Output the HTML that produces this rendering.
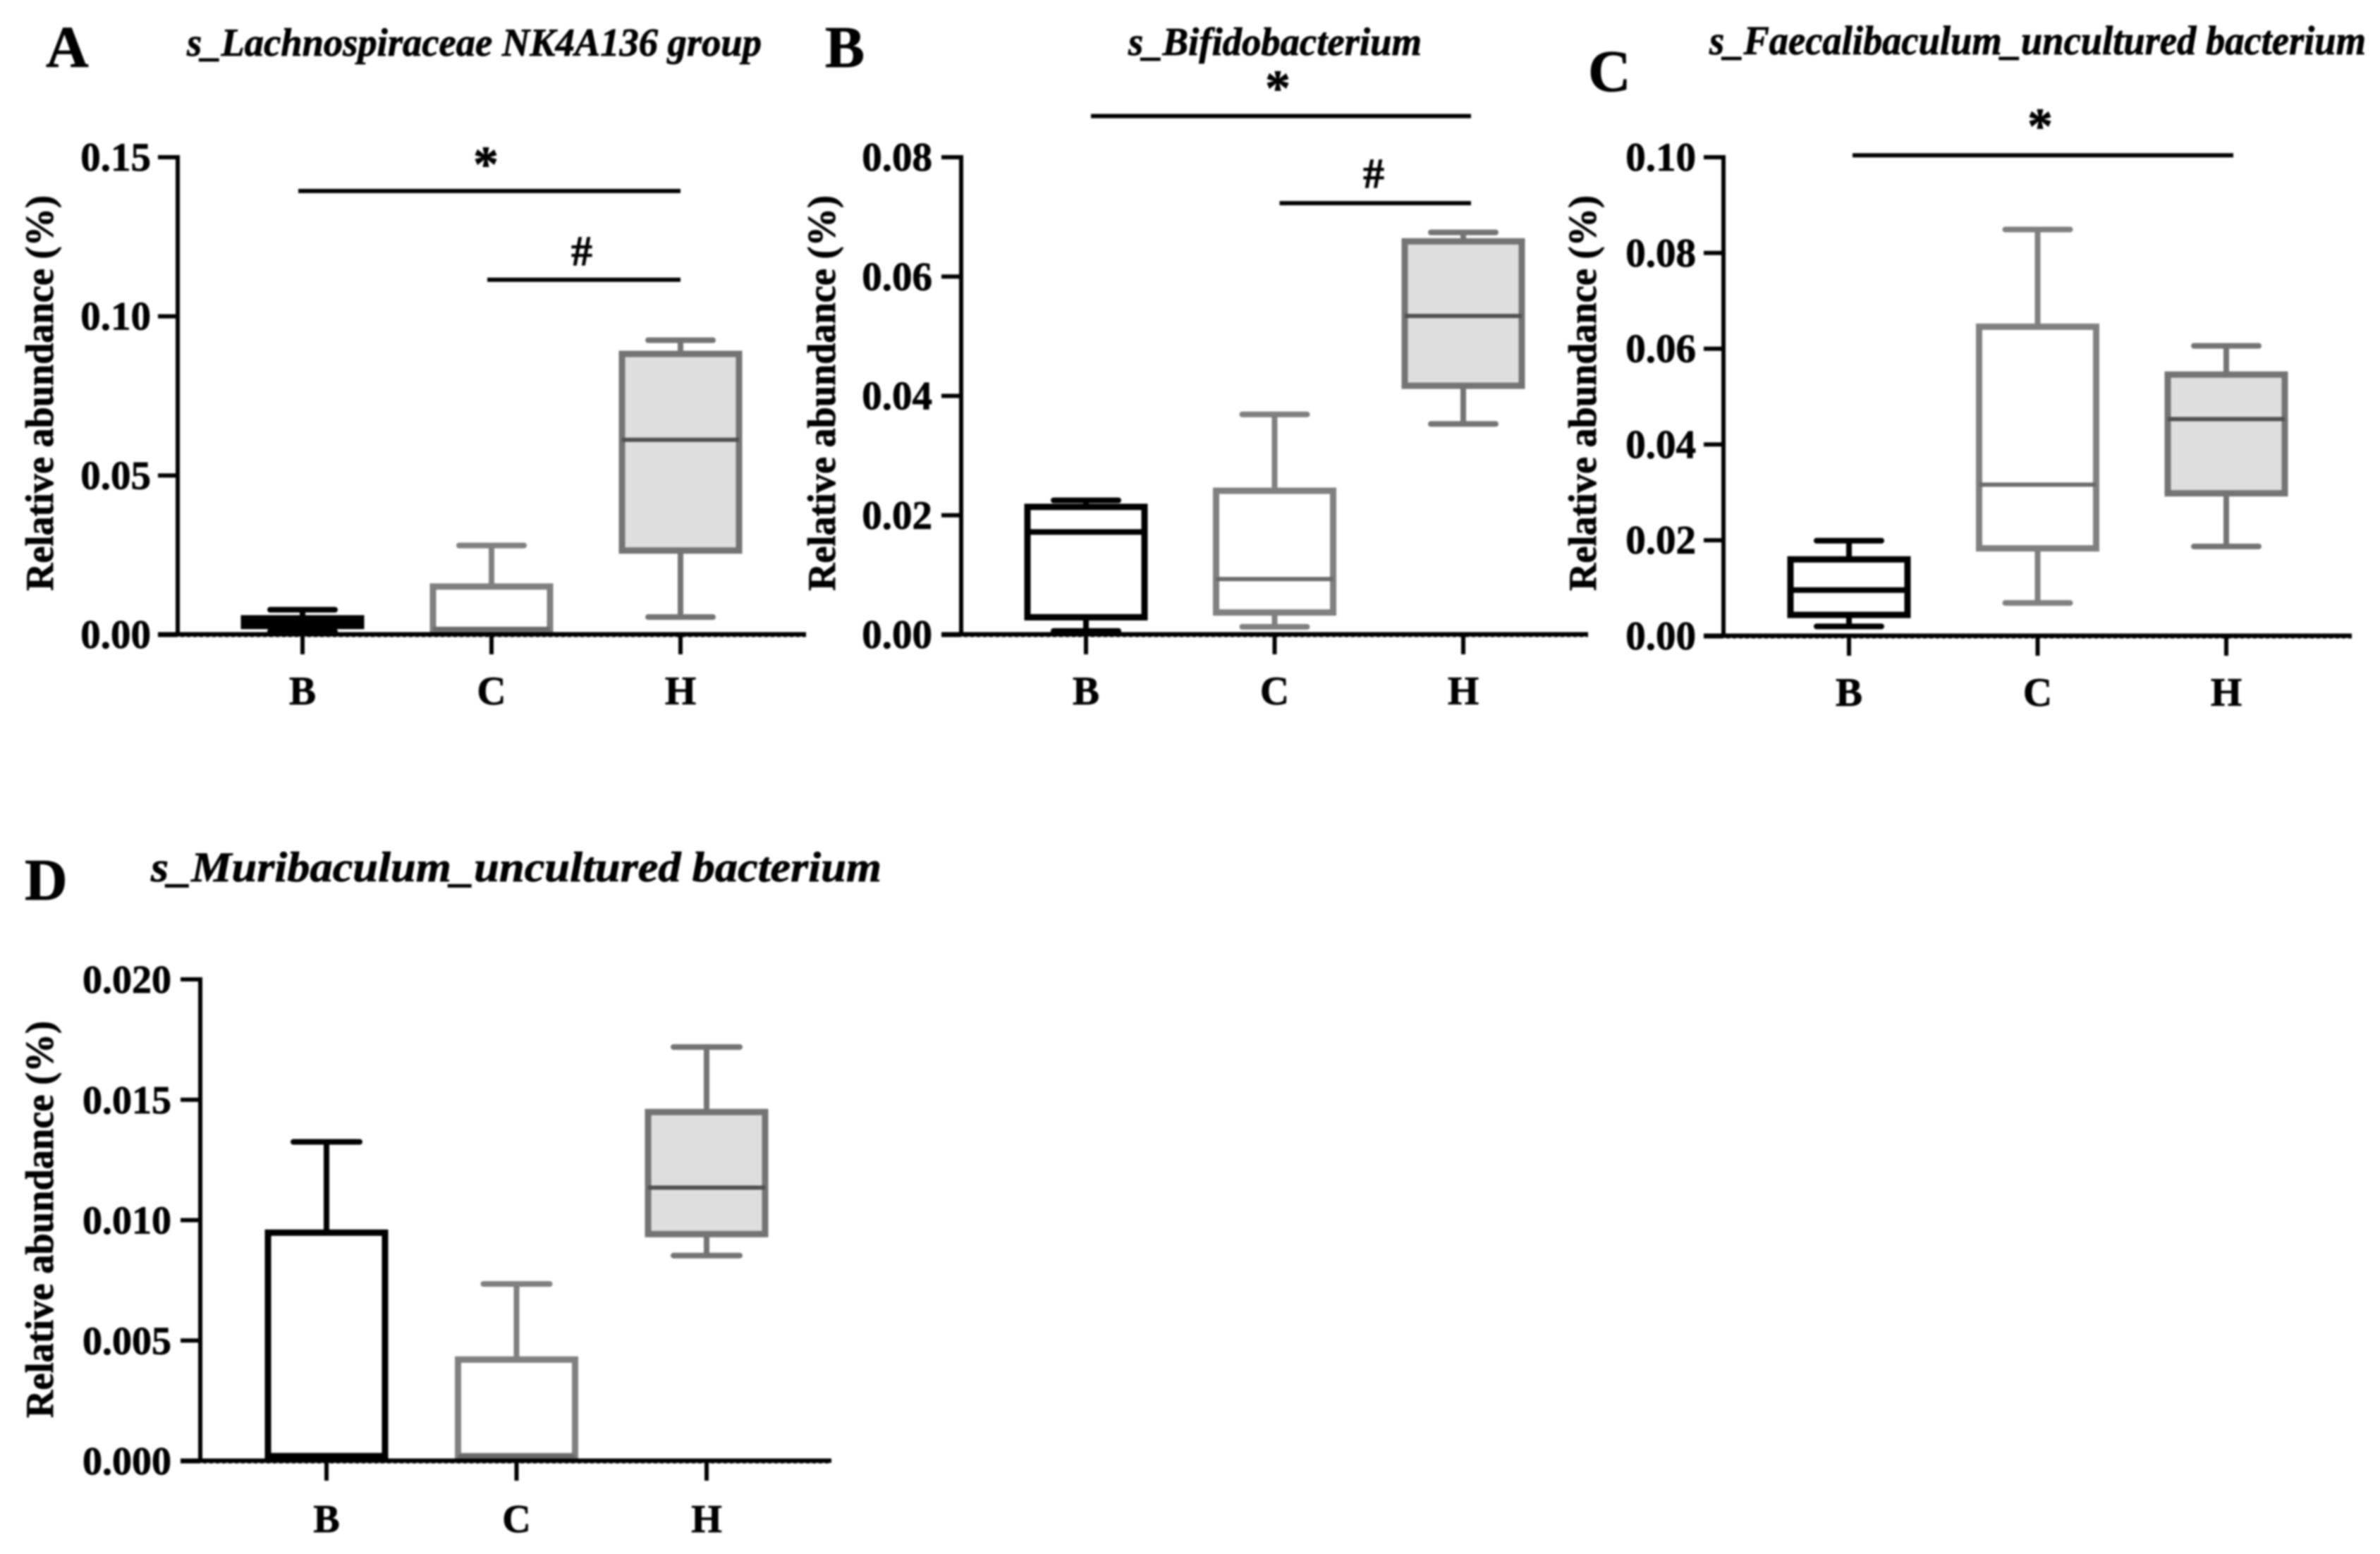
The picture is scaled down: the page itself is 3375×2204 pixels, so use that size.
<!DOCTYPE html>
<html lang="en">
<head>
<meta charset="utf-8">
<title>Relative abundance box plots</title>
<style>
html,body{margin:0;padding:0;background:#fff;}
body{width:3375px;height:2204px;overflow:hidden;}
svg{display:block;filter:blur(1.4px);font-family:"Liberation Serif",serif;font-weight:bold;fill:#000;}
text{stroke:#000;stroke-width:0.8px;}
</style>
</head>
<body>
<svg id="figure" xmlns="http://www.w3.org/2000/svg" width="3375" height="2204" viewBox="0 0 3375 2204">
  <rect x="0" y="0" width="3375" height="2204" fill="#fff"/>

  <text x="65" y="95" font-size="84">A</text>
  <text x="1170" y="95" font-size="84">B</text>
  <text x="2252" y="129" font-size="84">C</text>
  <text x="35" y="1276" font-size="84">D</text>

  <text x="265" y="79" font-size="56" font-style="italic" textLength="815" lengthAdjust="spacingAndGlyphs">s_Lachnospiraceae NK4A136 group</text>
  <text x="1600" y="78" font-size="56" font-style="italic" textLength="416" lengthAdjust="spacingAndGlyphs">s_Bifidobacterium</text>
  <text x="2424" y="77" font-size="58" font-style="italic" textLength="931" lengthAdjust="spacingAndGlyphs">s_Faecalibaculum_uncultured bacterium</text>
  <text x="214" y="1250" font-size="60" font-style="italic" textLength="1036" lengthAdjust="spacingAndGlyphs">s_Muribaculum_uncultured bacterium</text>

  <text transform="translate(75,838) rotate(-90)" font-size="56" textLength="561" lengthAdjust="spacingAndGlyphs">Relative abundance (%)</text>
  <text transform="translate(1184,838) rotate(-90)" font-size="56" textLength="561" lengthAdjust="spacingAndGlyphs">Relative abundance (%)</text>
  <text transform="translate(2263,838) rotate(-90)" font-size="56" textLength="561" lengthAdjust="spacingAndGlyphs">Relative abundance (%)</text>
  <text transform="translate(75,2011) rotate(-90)" font-size="56" textLength="563" lengthAdjust="spacingAndGlyphs">Relative abundance (%)</text>
</svg>
<script>
// ---------- data: [low whisker, Q1, median, Q3, high whisker] ----------
const categories = ['B', 'C', 'H'];

const ticksA = ['0.00', '0.05', '0.10', '0.15'];
const ticksB = ['0.00', '0.02', '0.04', '0.06', '0.08'];
const ticksC = ['0.00', '0.02', '0.04', '0.06', '0.08', '0.10'];
const ticksD = ['0.000', '0.005', '0.010', '0.015', '0.020'];

const panelA_B = [0.0010, 0.0027, 0.0038, 0.0051, 0.0078];
const panelA_C = [0.0008, 0.0012, 0.0018, 0.0151, 0.0280];
const panelA_H = [0.0055, 0.0264, 0.0612, 0.0882, 0.0925];

const panelB_B = [0.0006, 0.0029, 0.0172, 0.0214, 0.0225];
const panelB_C = [0.0013, 0.0037, 0.0093, 0.0241, 0.0369];
const panelB_H = [0.0353, 0.0417, 0.0534, 0.0659, 0.0674];

const panelC_B = [0.0020, 0.0044, 0.0096, 0.0160, 0.0199];
const panelC_C = [0.0069, 0.0183, 0.0316, 0.0646, 0.0849];
const panelC_H = [0.0187, 0.0298, 0.0453, 0.0546, 0.0606];

const panelD_B = [0.0001, 0.0002, 0.0002, 0.00948, 0.01325];
const panelD_C = [0.0001, 0.0002, 0.0002, 0.00421, 0.00735];
const panelD_H = [0.00853, 0.00942, 0.01135, 0.01449, 0.01719];

// significance annotations: [from category index, to category index, bracket value]
const sigA_star = [0, 2, 0.1394];
const sigA_hash = [1, 2, 0.1115];
const sigB_star = [0, 2, 0.0869];
const sigB_hash = [1, 2, 0.0723];
const sigC_star = [0, 2, 0.1004];

// ---------- styling and panel layout ----------
const NS = 'http://www.w3.org/2000/svg';
const svg = document.getElementById('figure');
const strokeColors = ['#000000', '#808080', '#747474'];
const medianColors = ['#000000', '#6a6a6a', '#505050'];
const fillColors = ['none', 'none', '#dedede'];

const panels = [
  { id: 'a', ticks: ticksA, series: [panelA_B, panelA_C, panelA_H], axisX: 252, top: 223, zero: 900, right: 1143,
    firstX: 429, stepX: 268, tickLabelX: 214, catBase: 999, fs: 57, boxW: 166, capW: 92, sigStart: -6, sigEnd: 0,
    sig: [[sigA_star, '*', 689, 257], [sigA_hash, '#', 825, 376]] },
  { id: 'b', ticks: ticksB, series: [panelB_B, panelB_C, panelB_H], axisX: 1363, top: 223, zero: 900, right: 2252,
    firstX: 1540, stepX: 267.5, tickLabelX: 1322, catBase: 999, fs: 57, boxW: 166, capW: 92, sigStart: 7, sigEnd: 11,
    sig: [[sigB_star, '*', 1812, 149], [sigB_hash, '#', 1948, 266]] },
  { id: 'c', ticks: ticksC, series: [panelC_B, panelC_C, panelC_H], axisX: 2444, top: 223, zero: 902, right: 3335,
    firstX: 2622, stepX: 267.5, tickLabelX: 2405, catBase: 1001, fs: 57, boxW: 166, capW: 92, sigStart: 5, sigEnd: 10,
    sig: [[sigC_star, '*', 2893, 203]] },
  { id: 'd', ticks: ticksD, series: [panelD_B, panelD_C, panelD_H], axisX: 284, top: 1389, zero: 2072, right: 1179,
    firstX: 463, stepX: 269.5, tickLabelX: 243, catBase: 2173, fs: 56, boxW: 166, capW: 94, sigStart: 0, sigEnd: 0,
    sig: [] }
];

function drawLine(parent, x1, y1, x2, y2, stroke, width, cap, name) {
  const el = document.createElementNS(NS, 'line');
  
  
  el.setAttribute('x1', x1);
  el.setAttribute('y1', y1);
  el.setAttribute('x2', x2);
  el.setAttribute('y2', y2);
  el.setAttribute('stroke', stroke);
  el.setAttribute('stroke-width', width);
  el.setAttribute('stroke-linecap', cap);
  parent.appendChild(el);
  return el;
}

function drawText(parent, x, y, anchor, size, content, name) {
  const el = document.createElementNS(NS, 'text');
  
  
  el.setAttribute('x', x);
  el.setAttribute('y', y);
  el.setAttribute('text-anchor', anchor);
  el.setAttribute('font-size', size);
  el.textContent = content;
  parent.appendChild(el);
}

function drawPanel(p) {
  const maxValue = parseFloat(p.ticks[p.ticks.length - 1]);
  const yScale = v => p.zero - (v / maxValue) * (p.zero - p.top);
  const xScale = i => p.firstX + i * p.stepX;

  const g = document.createElementNS(NS, 'g');
  
  
  svg.appendChild(g);

  // boxes
  p.series.forEach((vals, i) => {
    const cat = categories[i].toLowerCase();
    const cx = xScale(i);
    const color = strokeColors[i];
    const box = document.createElementNS(NS, 'g');
    
    
    g.appendChild(box);

    drawLine(box, cx, yScale(vals[0]), cx, yScale(vals[4]), color, 8, 'butt', 'whisker-' + cat);
    drawLine(box, cx - p.capW / 2, yScale(vals[4]), cx + p.capW / 2, yScale(vals[4]), color, 8, 'round', 'whisker-cap-high-' + cat);
    drawLine(box, cx - p.capW / 2, yScale(vals[0]), cx + p.capW / 2, yScale(vals[0]), color, 8, 'round', 'whisker-cap-low-' + cat);

    const rect = document.createElementNS(NS, 'rect');
    
    
    rect.setAttribute('x', cx - p.boxW / 2);
    rect.setAttribute('y', yScale(vals[3]));
    rect.setAttribute('width', p.boxW);
    rect.setAttribute('height', yScale(vals[1]) - yScale(vals[3]));
    rect.setAttribute('fill', fillColors[i] === 'none' ? '#ffffff' : fillColors[i]);
    rect.setAttribute('stroke', color);
    rect.setAttribute('stroke-width', 9);
    box.appendChild(rect);

    drawLine(box, cx - p.boxW / 2, yScale(vals[2]), cx + p.boxW / 2, yScale(vals[2]), medianColors[i], i === 0 ? 8 : 6, 'butt', 'median-' + cat);
  });

  // axes
  drawLine(g, p.axisX, p.top - 3, p.axisX, p.zero + 3, '#000', 6, 'butt', 'y-axis-line');
  drawLine(g, p.axisX - 28, p.zero, p.right, p.zero, '#000', 7, 'butt', 'x-axis-line');
  const dots = drawLine(g, p.axisX, p.zero + 3.5, p.right, p.zero + 3.5, '#ffffff', 1.5, 'butt', 'zero-line-dots');
  dots.setAttribute('stroke-dasharray', '4 5');

  p.ticks.forEach(label => {
    const y = yScale(parseFloat(label));
    drawLine(g, p.axisX - 28, y, p.axisX, y, '#000', 6, 'butt', 'y-tick');
    drawText(g, p.tickLabelX, y + 19, 'end', p.fs, label, 'y-tick-label');
  });

  categories.forEach((label, i) => {
    drawLine(g, xScale(i), p.zero, xScale(i), p.zero + 28, '#000', 6, 'butt', 'x-tick');
    drawText(g, xScale(i), p.catBase, 'middle', p.fs, label, 'x-tick-label');
  });

  // significance brackets
  p.sig.forEach(item => {
    const s = item[0];
    const y = yScale(s[2]);
    const kind = item[1] === '*' ? 'star' : 'hash';
    drawLine(g, xScale(s[0]) + p.sigStart, y, xScale(s[1]) + p.sigEnd, y, '#000', 6, 'butt', 'significance-bar-' + kind);
    drawText(g, item[2], item[3], 'middle', kind === 'star' ? 72 : 60, item[1], 'significance-mark-' + kind);
  });
}

panels.forEach(drawPanel);
</script>
</body>
</html>
